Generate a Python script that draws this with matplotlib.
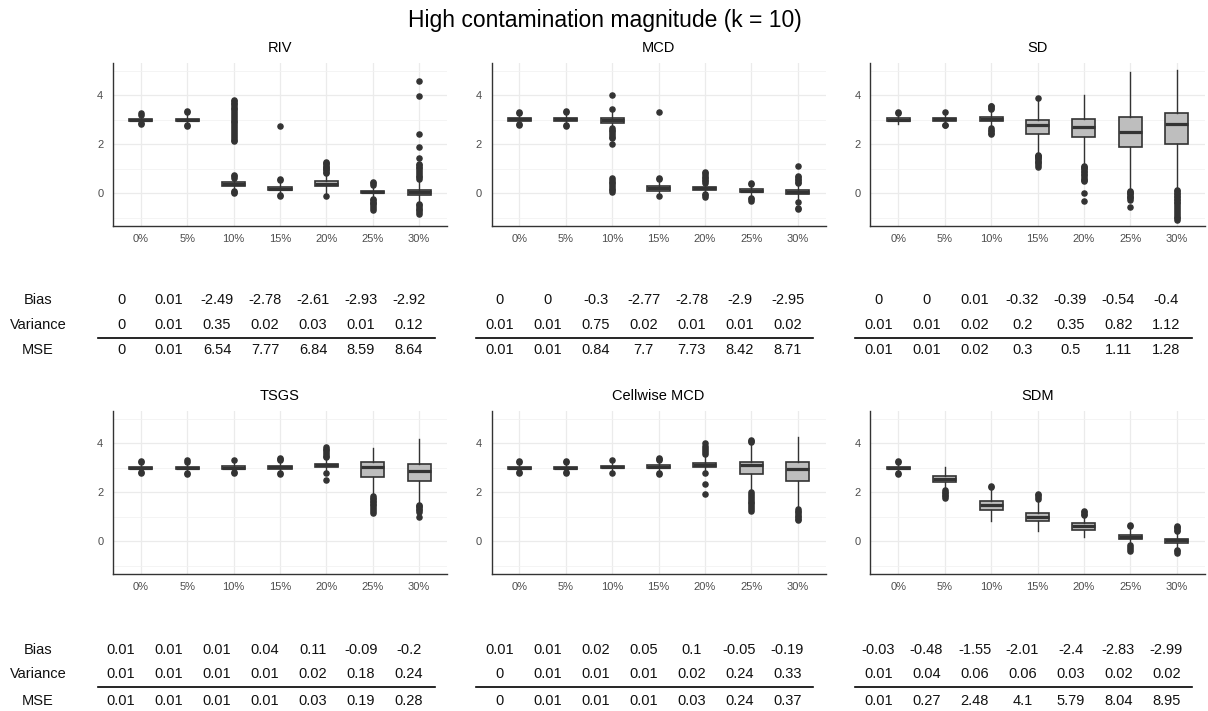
import matplotlib
matplotlib.use("Agg")
import matplotlib.pyplot as plt
from matplotlib.lines import Line2D

plt.rcParams['font.family'] = ['Liberation Sans', 'DejaVu Sans']

methods = ["RIV", "MCD", "SD", "TSGS", "Cellwise MCD", "SDM"]
levels = ["0%", "5%", "10%", "15%", "20%", "25%", "30%"]

# box summaries
lower_whisker = {
    "RIV": [2.9, 2.85, 0.15, 0.0, 0.0, -0.15, -0.4],
    "MCD": [2.88, 2.86, 2.7, -0.02, 0.02, -0.1, -0.25],
    "SD": [2.83, 2.85, 2.72, 1.62, 1.16, 0.14, 0.18],
    "TSGS": [2.87, 2.86, 2.86, 2.85, 2.85, 1.89, 1.52],
    "Cellwise MCD": [2.87, 2.87, 2.87, 2.86, 2.88, 2.05, 1.36],
    "SDM": [2.87, 2.14, 0.81, 0.41, 0.16, -0.08, -0.28],
}
q1 = {
    "RIV": [2.97, 2.97, 0.3, 0.12, 0.28, 0.02, -0.08],
    "MCD": [2.97, 2.97, 2.88, 0.1, 0.15, 0.03, -0.04],
    "SD": [2.95, 2.97, 2.93, 2.42, 2.29, 1.88, 2.02],
    "TSGS": [2.95, 2.95, 2.93, 2.97, 3.02, 2.63, 2.48],
    "Cellwise MCD": [2.95, 2.95, 2.98, 3.0, 3.04, 2.73, 2.45],
    "SDM": [2.95, 2.4, 1.26, 0.81, 0.46, 0.07, -0.07],
}
median = {
    "RIV": [3.01, 3.01, 0.38, 0.19, 0.38, 0.06, 0.04],
    "MCD": [3.02, 3.02, 2.98, 0.2, 0.2, 0.1, 0.03],
    "SD": [3.01, 3.02, 3.03, 2.77, 2.7, 2.51, 2.83],
    "TSGS": [3.0, 3.0, 3.0, 3.02, 3.1, 3.02, 2.86],
    "Cellwise MCD": [3.0, 3.0, 3.03, 3.05, 3.1, 3.1, 2.96],
    "SDM": [3.0, 2.54, 1.46, 0.99, 0.61, 0.18, 0.03],
}
q3 = {
    "RIV": [3.05, 3.05, 0.45, 0.26, 0.48, 0.1, 0.14],
    "MCD": [3.08, 3.07, 3.08, 0.3, 0.26, 0.16, 0.12],
    "SD": [3.08, 3.07, 3.12, 2.98, 3.03, 3.11, 3.28],
    "TSGS": [3.04, 3.04, 3.08, 3.08, 3.16, 3.23, 3.14],
    "Cellwise MCD": [3.04, 3.04, 3.08, 3.12, 3.18, 3.23, 3.23],
    "SDM": [3.05, 2.67, 1.63, 1.15, 0.75, 0.27, 0.11],
}
upper_whisker = {
    "RIV": [3.14, 3.18, 0.6, 0.45, 0.78, 0.3, 0.55],
    "MCD": [3.18, 3.2, 3.3, 0.5, 0.38, 0.3, 0.35],
    "SD": [3.2, 3.2, 3.38, 3.8, 4.03, 4.94, 5.02],
    "TSGS": [3.15, 3.16, 3.2, 3.22, 3.35, 3.82, 4.18],
    "Cellwise MCD": [3.15, 3.16, 3.2, 3.25, 3.45, 3.95, 4.27],
    "SDM": [3.17, 3.05, 2.12, 1.62, 1.02, 0.52, 0.36],
}
outliers = {
    "RIV": [
        [3.2, 3.26, 2.84, 2.87],
        [3.3, 3.36, 2.74, 2.78],
        [0.02, 0.06, 0.1, 0.64, 0.7, 0.73, 2.13, 2.18, 2.27, 2.35, 2.41, 2.52, 2.58, 2.66,
         2.74, 2.83, 2.9, 2.97, 3.05, 3.12, 3.2, 3.28, 3.35, 3.44, 3.5, 3.57, 3.63, 3.7, 3.76, 3.8],
        [-0.1, -0.06, 0.55, 0.6, 2.76],
        [-0.1, 0.82, 0.88, 0.93, 0.98, 1.03, 1.08, 1.13, 1.18, 1.22, 1.26],
        [0.35, 0.41, 0.46, -0.22, -0.28, -0.34, -0.4, -0.46, -0.52, -0.6, -0.68],
        [0.6, 0.66, 0.72, 0.8, 0.88, 0.95, 1.02, 1.08, 1.15, 1.2, 1.45, 1.88, 2.42, 3.98, 4.6,
         -0.45, -0.5, -0.57, -0.63, -0.7, -0.78, -0.86],
    ],
    "MCD": [
        [3.28, 3.32, 2.8, 2.84],
        [3.32, 3.37, 2.76, 2.8],
        [3.45, 4.03, 2.66, 2.6, 2.53, 2.46, 2.38, 2.3, 2.25, 2.0,
         0.05, 0.12, 0.18, 0.25, 0.32, 0.4, 0.47, 0.55, 0.61],
        [0.58, 0.63, -0.13, 3.32],
        [0.42, 0.48, 0.55, 0.62, 0.68, 0.75, 0.82, 0.86, -0.02, -0.08, -0.14],
        [0.38, 0.43, -0.2, -0.25, -0.3],
        [0.41, 0.47, 0.53, 0.6, 0.66, 0.72, 1.13, -0.34, -0.59, -0.64],
    ],
    "SD": [
        [3.28, 3.3],
        [3.3, 2.77, 2.8],
        [3.45, 3.5, 3.55, 3.58, 2.66, 2.6, 2.54, 2.48, 2.43],
        [3.89, 1.58, 1.54, 1.5, 1.46, 1.42, 1.38, 1.33, 1.28, 1.22, 1.15, 1.08],
        [1.12, 1.07, 1.02, 0.97, 0.92, 0.86, 0.8, 0.74, 0.68, 0.6, 0.52, 0.48, 0.0, -0.31],
        [0.1, 0.05, 0.0, -0.05, -0.1, -0.15, -0.2, -0.27, -0.57],
        [0.14, 0.08, 0.02, -0.04, -0.1, -0.16, -0.22, -0.28, -0.35, -0.42, -0.5, -0.58,
         -0.66, -0.74, -0.82, -0.9, -0.97, -1.03, -1.09],
    ],
    "TSGS": [
        [3.22, 3.26, 2.8, 2.84],
        [3.24, 3.31, 2.75, 2.8],
        [3.3, 2.79, 2.83],
        [3.3, 3.35, 3.39, 2.76, 2.8],
        [3.43, 3.5, 3.57, 3.64, 3.72, 3.78, 3.84, 2.8, 2.52],
        [1.85, 1.78, 1.72, 1.66, 1.6, 1.53, 1.46, 1.38, 1.3, 1.22, 1.15],
        [1.48, 1.43, 1.38, 1.32, 1.27, 1.2, 1.0],
    ],
    "Cellwise MCD": [
        [3.22, 3.26, 2.8, 2.84],
        [3.22, 3.26, 2.8, 2.84],
        [3.3, 2.79],
        [3.3, 3.35, 3.39, 2.76, 2.8],
        [3.57, 3.65, 3.73, 3.8, 3.9, 4.0, 2.79, 2.32, 1.93],
        [4.04, 4.1, 4.15, 2.0, 1.92, 1.85, 1.78, 1.7, 1.62, 1.55, 1.47, 1.4, 1.32, 1.24],
        [1.3, 1.24, 1.18, 1.12, 1.05, 0.98, 0.91, 0.85],
    ],
    "SDM": [
        [3.22, 3.28, 2.74, 2.79],
        [2.08, 2.02, 1.96, 1.9, 1.84, 1.78],
        [2.2, 2.24],
        [1.72, 1.8, 1.87, 1.93],
        [1.08, 1.13, 1.18, 1.25],
        [0.63, 0.68, -0.14, -0.22, -0.33, -0.41],
        [0.41, 0.47, 0.53, 0.58, 0.62, -0.34, -0.4, -0.47],
    ],
}

bias = {
    "RIV": [0, 0.01, -2.49, -2.78, -2.61, -2.93, -2.92],
    "MCD": [0, 0, -0.3, -2.77, -2.78, -2.9, -2.95],
    "SD": [0, 0, 0.01, -0.32, -0.39, -0.54, -0.4],
    "TSGS": [0.01, 0.01, 0.01, 0.04, 0.11, -0.09, -0.2],
    "Cellwise MCD": [0.01, 0.01, 0.02, 0.05, 0.1, -0.05, -0.19],
    "SDM": [-0.03, -0.48, -1.55, -2.01, -2.4, -2.83, -2.99],
}
variance = {
    "RIV": [0, 0.01, 0.35, 0.02, 0.03, 0.01, 0.12],
    "MCD": [0.01, 0.01, 0.75, 0.02, 0.01, 0.01, 0.02],
    "SD": [0.01, 0.01, 0.02, 0.2, 0.35, 0.82, 1.12],
    "TSGS": [0.01, 0.01, 0.01, 0.01, 0.02, 0.18, 0.24],
    "Cellwise MCD": [0, 0.01, 0.01, 0.01, 0.02, 0.24, 0.33],
    "SDM": [0.01, 0.04, 0.06, 0.06, 0.03, 0.02, 0.02],
}
mse = {
    "RIV": [0, 0.01, 6.54, 7.77, 6.84, 8.59, 8.64],
    "MCD": [0.01, 0.01, 0.84, 7.7, 7.73, 8.42, 8.71],
    "SD": [0.01, 0.01, 0.02, 0.3, 0.5, 1.11, 1.28],
    "TSGS": [0.01, 0.01, 0.01, 0.01, 0.03, 0.19, 0.28],
    "Cellwise MCD": [0, 0.01, 0.01, 0.01, 0.03, 0.24, 0.37],
    "SDM": [0.01, 0.27, 2.48, 4.1, 5.79, 8.04, 8.95],
}

W, H = 1208, 711
fig = plt.figure(figsize=(W / 100, H / 100), dpi=100)

col_left = [113, 491.5, 870.5]
col_width = 334
row_top = [63, 411]
row_bottom = [226, 574]
table_rows_y = [[300, 325, 338, 350.5], [650, 674.5, 687, 701]]

fig.text(605 / W, 1 - 20 / H, "High contamination magnitude (k = 10)",
         ha='center', va='center', fontsize=16.5, color='black')

for k, name in enumerate(methods):
    r, c = divmod(k, 3)
    left = col_left[c]
    ax = fig.add_axes([left / W, 1 - row_bottom[r] / H, col_width / W,
                       (row_bottom[r] - row_top[r]) / H])
    stats = []
    for i in range(len(levels)):
        stats.append(dict(whislo=lower_whisker[name][i], q1=q1[name][i],
                          med=median[name][i], q3=q3[name][i],
                          whishi=upper_whisker[name][i], fliers=outliers[name][i]))
    ax.bxp(stats, positions=range(1, 8), widths=0.5, patch_artist=True, showcaps=False,
           boxprops=dict(facecolor='#bebebe', edgecolor='#333333', linewidth=1.2),
           medianprops=dict(color='#333333', linewidth=2.3),
           whiskerprops=dict(color='#333333', linewidth=1.0),
           flierprops=dict(marker='o', markerfacecolor='#333333',
                           markeredgecolor='#333333', markersize=3.7))
    ax.set_xlim(0.4, 7.6)
    ax.set_ylim(-1.34, 5.32)
    ax.set_xticks(range(1, 8))
    ax.set_xticklabels(levels)
    ax.set_yticks([0, 2, 4])
    ax.set_yticks([-1, 1, 3, 5], minor=True)
    ax.set_axisbelow(True)
    ax.grid(which='major', color='#ebebeb', linewidth=0.9)
    ax.grid(which='minor', axis='y', color='#f2f2f2', linewidth=0.6)
    for s in ['top', 'right']:
        ax.spines[s].set_visible(False)
    for s in ['left', 'bottom']:
        ax.spines[s].set_color('#333333')
        ax.spines[s].set_linewidth(1.0)
    ax.tick_params(axis='x', length=0, labelsize=8, labelcolor='#4d4d4d', pad=6)
    ax.tick_params(axis='y', length=0, labelsize=8, labelcolor='#4d4d4d', pad=7)
    ax.tick_params(which='minor', length=0)
    ax.set_title(name, fontsize=10.5, pad=8)

    # table under the panel
    x0 = left + 8
    ys = table_rows_y[r]
    for row_vals, y in ((bias[name], ys[0]), (variance[name], ys[1]), (mse[name], ys[3])):
        for i, v in enumerate(row_vals):
            fig.text((x0 + 48 * i) / W, 1 - y / H, f"{v:g}", ha='center', va='center',
                     fontsize=10.5, color='#111111')
    fig.add_artist(Line2D([(x0 - 23.5) / W, (x0 + 48 * 6 + 25.5) / W],
                          [1 - ys[2] / H, 1 - ys[2] / H], color='black', linewidth=1.2))
    if c == 0:
        for lab, y in zip(["Bias", "Variance", "MSE"], [ys[0], ys[1], ys[3]]):
            fig.text(38 / W, 1 - y / H, lab, ha='center', va='center',
                     fontsize=10.5, color='#111111')

fig.savefig("out.png", dpi=100)
